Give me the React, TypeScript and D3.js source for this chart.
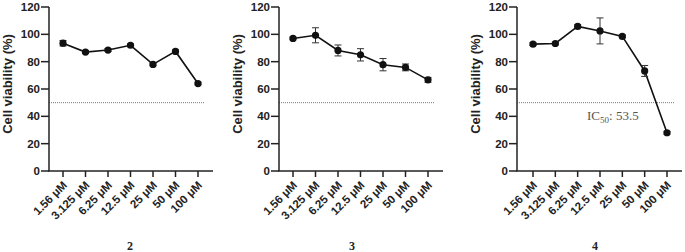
import React from "react";
import * as d3 from "d3";

const categories = ["1.56 μM", "3.125 μM", "6.25 μM", "12.5 μM", "25 μM", "50 μM", "100 μM"];
const yTicks = [0, 20, 40, 60, 80, 100, 120];
const captions = ["2", "3", "4"];
const means2 = [93.5, 87, 88.5, 92, 78, 87.5, 64];
const errs2 = [2, 1, 1, 1, 1, 1, 1];
const means3 = [97, 99.3, 88.2, 85, 77.8, 75.8, 66.7];
const errs3 = [1, 5.5, 4, 4.5, 4.5, 2.5, 1.8];
const means4 = [92.8, 93.3, 105.8, 102.5, 98.5, 73.2, 28];
const errs4 = [1, 1, 1.2, 9.5, 1, 4, 1];
const threshold = 50;
const ic50Label = "53.5";

const panels = [
  { axisX: 49, xEnd: 213, first: 63, last: 198, means: means2, errs: errs2, capX: 130 },
  { axisX: 279, xEnd: 443, first: 293, last: 428, means: means3, errs: errs3, capX: 352 },
  { axisX: 517, xEnd: 682, first: 533, last: 667, means: means4, errs: errs4, capX: 595, ic50: true },
];

const top = 7;
const bottom = 171;

function Panel({ p, caption }: any) {
  const y = d3.scaleLinear().domain([0, 120]).range([bottom, top]);
  const x = d3.scalePoint<string>().domain(categories).range([p.first, p.last]);
  const line = d3
    .line<number>()
    .x((_, i) => x(categories[i]) as number)
    .y((d) => y(d));
  const sans = "Arial, 'Liberation Sans', Helvetica, sans-serif";
  return (
    <g>
      {/* threshold */}
      <line
        x1={p.axisX}
        x2={p.xEnd - 8}
        y1={y(threshold)}
        y2={y(threshold)}
        stroke="#777"
        strokeWidth={1}
        strokeDasharray="1,1"
      />
      {p.ic50 && (
        <text x={587} y={120} fontFamily="'Liberation Serif', 'Times New Roman', serif" fontSize={13} fill="#555">
          IC<tspan fontSize={9} dy={3}>50</tspan>
          <tspan dy={-3}>: {ic50Label}</tspan>
        </text>
      )}
      {/* y axis */}
      <line x1={p.axisX} x2={p.axisX} y1={top} y2={bottom} stroke="#222" strokeWidth={1.5} />
      {yTicks.map((t) => (
        <g key={t}>
          <line x1={p.axisX - 8} x2={p.axisX} y1={y(t)} y2={y(t)} stroke="#222" strokeWidth={1.5} />
          <text
            x={p.axisX - 9}
            y={y(t)}
            dy="0.35em"
            textAnchor="end"
            fontFamily={sans}
            fontWeight="bold"
            fontSize={11.5}
            fill="#222"
          >
            {t}
          </text>
        </g>
      ))}
      <text
        transform={`translate(${p.axisX - 37},84) rotate(-90)`}
        textAnchor="middle"
        fontFamily={sans}
        fontWeight="bold"
        fontSize={13}
        fill="#222"
      >
        Cell viability (%)
      </text>
      {/* x axis */}
      <line x1={p.axisX - 1} x2={p.xEnd} y1={bottom} y2={bottom} stroke="#222" strokeWidth={1.5} />
      {categories.map((c) => (
        <g key={c}>
          <line x1={x(c)} x2={x(c)} y1={bottom} y2={bottom + 6} stroke="#222" strokeWidth={1.5} />
          <text
            transform={`translate(${(x(c) as number) + 2},${bottom + 12}) rotate(-45)`}
            textAnchor="end"
            dy="0.35em"
            fontFamily={sans}
            fontWeight="bold"
            fontSize={11.5}
            fill="#222"
          >
            {c}
          </text>
        </g>
      ))}
      {/* data */}
      <path d={line(p.means) || ""} fill="none" stroke="#111" strokeWidth={1.6} />
      {p.means.map((m: number, i: number) => {
        const cx = x(categories[i]) as number;
        const e = p.errs[i];
        return (
          <g key={i}>
            <line x1={cx} x2={cx} y1={y(m + e)} y2={y(m - e)} stroke="#333" strokeWidth={1} />
            <line x1={cx - 3.5} x2={cx + 3.5} y1={y(m + e)} y2={y(m + e)} stroke="#333" strokeWidth={1} />
            <line x1={cx - 3.5} x2={cx + 3.5} y1={y(m - e)} y2={y(m - e)} stroke="#333" strokeWidth={1} />
            <circle cx={cx} cy={y(m)} r={3.6} fill="#111" />
          </g>
        );
      })}
      <text
        x={p.capX}
        y={250}
        textAnchor="middle"
        fontFamily="'Liberation Serif', 'Times New Roman', serif"
        fontWeight="bold"
        fontSize={12}
        fill="#222"
      >
        {caption}
      </text>
    </g>
  );
}

export default function App() {
  return (
    <svg
      width={685}
      height={252}
      style={{ position: "absolute", left: 0, top: 0, background: "#fff" }}
    >
      <rect width={685} height={252} fill="#fff" />
      {panels.map((p, i) => (
        <Panel key={i} p={p} caption={captions[i]} />
      ))}
    </svg>
  );
}
